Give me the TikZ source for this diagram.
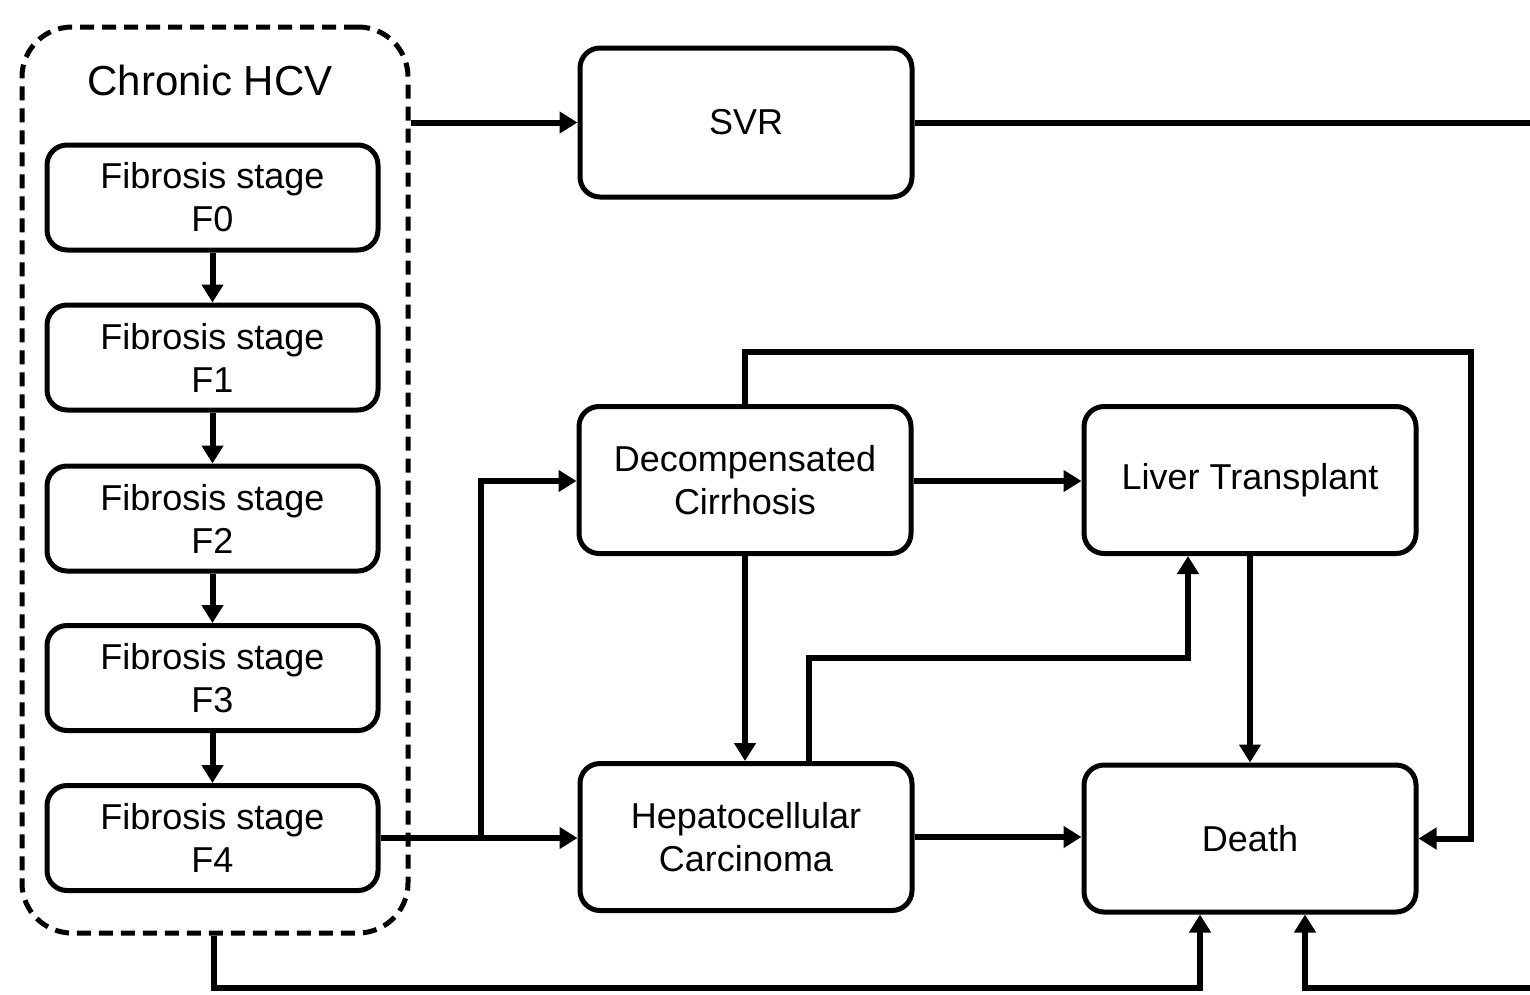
\documentclass[tikz,border=0pt]{standalone}
\usepackage{fontspec}
\setmainfont{Liberation Sans}
\usetikzlibrary{arrows.meta}
\begin{document}
\begin{tikzpicture}[x=1pt,y=-1pt,
  box/.style={draw,line width=5pt,rounded corners=20pt,align=center,inner sep=0pt,
    font=\fontsize{36}{43}\selectfont},
  fbox/.style={box,minimum width=331pt,minimum height=105pt},
  sbox/.style={box,minimum width=332pt,minimum height=147pt},
  conn/.style={line width=6pt},
  arr/.style={conn,-{Triangle[length=18pt,width=21pt]}}]
\useasboundingbox (0,0) rectangle (1530,994);
% dashed container
\node[draw,line width=5pt,dash pattern=on 14pt off 8pt,rounded corners=50pt,
  minimum width=386pt,minimum height=906pt,inner sep=0pt] (hcv) at (215,480) {};
\node[font=\fontsize{42}{50}\selectfont] (hcvt) at (210,80) {Chronic HCV};
% fibrosis stages
\node[fbox] (f0) at (212.5,197.5) {Fibrosis stage\\F0};
\node[fbox] (f1) at (212.5,357.5) {Fibrosis stage\\F1};
\node[fbox] (f2) at (212.5,518.5) {Fibrosis stage\\F2};
\node[fbox] (f3) at (212.5,678) {Fibrosis stage\\F3};
\node[fbox] (f4) at (212.5,838) {Fibrosis stage\\F4};
% states
\node[box,minimum width=332pt,minimum height=149pt] (svr) at (746,122.5) {SVR};
\node[sbox] (dc) at (745,480) {Decompensated\\Cirrhosis};
\node[sbox] (lt) at (1250,480) {Liver Transplant};
\node[sbox] (hcc) at (746,837) {Hepatocellular\\Carcinoma};
\node[sbox] (death) at (1250,838.5) {Death};
% coordinates
\coordinate (br) at (481,838);
\coordinate (rt) at (1533,122.5);
\coordinate (rb) at (1533,988);
% fibrosis progression
\draw[arr] (f0.south) -- (f1.north);
\draw[arr] (f1.south) -- (f2.north);
\draw[arr] (f2.south) -- (f3.north);
\draw[arr] (f3.south) -- (f4.north);
% chronic to SVR
\draw[arr] (hcv.east |- svr.west) -- (svr.west);
% SVR to death
\draw[arr] (svr.east) -- (rt) -- (rb) -- (1305,988) -- (1305,0 |- death.south);
% chronic to death
\draw[arr] (hcv.south -| 214,0) -- (214,988) -- (1200,988) -- (1200,0 |- death.south);
% F4 to HCC and DC
\draw[arr] (f4.east) -- (hcc.west |- f4.east);
\draw[arr] (br) -- (481,481) -- (dc.west |- 0,481);
% DC transitions
\draw[arr] (dc.east |- 0,481) -- (lt.west |- 0,481);
\draw[arr] (dc.south) -- (dc.south |- hcc.north);
\draw[arr] (dc.north) -- (745,352) -- (1471,352) -- (1471,0 |- death.east) -- (death.east);
% HCC transitions
\draw[arr] (809,0 |- hcc.north) -- (809,658) -- (1188,658) -- (1188,0 |- lt.south);
\draw[arr] (hcc.east) -- (death.west |- hcc.east);
% LT to death
\draw[arr] (lt.south) -- (lt.south |- death.north);
\end{tikzpicture}
\end{document}
